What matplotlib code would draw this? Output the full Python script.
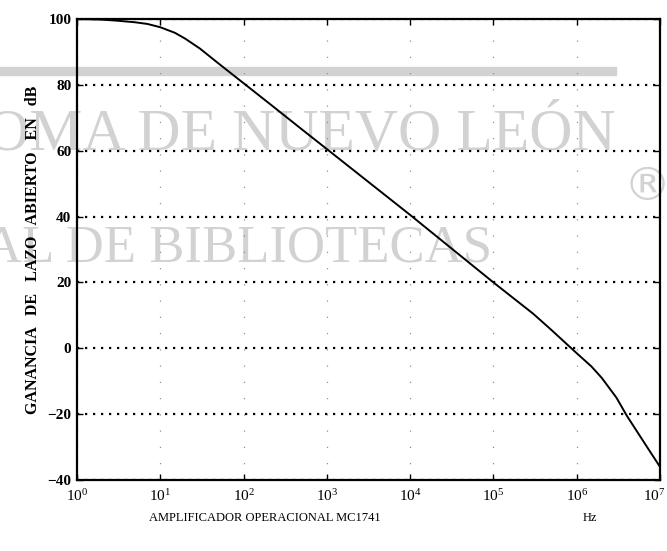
import matplotlib.pyplot as plt
from matplotlib.transforms import ScaledTranslation

# Open-loop gain
freq_hz = [1, 2, 3, 5, 7, 10, 15, 20, 30, 50, 100, 200, 500,
           1e3, 1e4, 1e5, 3e5, 5e5, 1e6, 1.5e6, 2e6, 3e6, 4e6, 7e6, 1e7]
gain_db = [100, 99.8, 99.5, 99, 98.5, 97.5, 95.8, 94, 91, 86.5, 80.5, 74.5, 66.5,
           60.5, 40.5, 20, 10.5, 5.5, -1.5, -5.5, -9, -15, -20.5, -30, -36]

y_ticks = [-40, -20, 0, 20, 40, 60, 80, 100]
x_ticks = [1, 10, 100, 1e3, 1e4, 1e5, 1e6, 1e7]

W, H = 667, 551
plt.rcParams['font.family'] = ['Liberation Serif', 'DejaVu Serif']
plt.rcParams['mathtext.fontset'] = 'dejavuserif'

fig = plt.figure(figsize=(W / 100, H / 100), dpi=100)

def px(x, y):
    return x / W, 1 - y / H

# watermark (gray, behind the plot)
wm = '#d2d2d2'
fig.text(*px(616, 150), 'OMA DE NUEVO LEÓN', ha='right',
         va='baseline', fontsize=43, color=wm, zorder=0)
fig.text(*px(492, 262), 'AL DE BIBLIOTECAS', ha='right',
         va='baseline', fontsize=38, color=wm, zorder=0)
fig.text(*px(647, 187), '®', ha='center', va='center', fontsize=34,
         color=wm, family='DejaVu Sans', zorder=0)
fig.patches.append(plt.Rectangle(px(0, 75), 616 / W, 8 / H,
                                 transform=fig.transFigure, color=wm, zorder=0))

ax = fig.add_axes([77 / W, 1 - 480 / H, (660 - 77) / W, (480 - 19) / H])
ax.set_facecolor('none')
ax.set_zorder(1)

ax.plot(freq_hz, gain_db, color='black', lw=1.4)

ax.set_xscale('log')
ax.set_xlim(1, 1e7)
ax.set_ylim(-40, 100)
ax.set_xticks(x_ticks)
ax.set_yticks(y_ticks)
ax.minorticks_off()

# dotted horizontal grid, sparse vertical grid
ax.yaxis.grid(True, color='black', linestyle=(0, (1, 2.6)), lw=1.6)
ax.xaxis.grid(True, color='#909090', linestyle=(0, (1, 12)), lw=0.9)

for s in ax.spines.values():
    s.set_linewidth(1.6)

ax.tick_params(direction='in', length=4, width=1, top=True, right=True)
ax.tick_params(axis='x', labelsize=11, pad=6)
ax.tick_params(axis='y', labelsize=11, pad=4)
for lab in ax.get_yticklabels():
    lab.set_fontweight('bold')

# last x label sits right at the figure edge; nudge it inside
last = ax.get_xticklabels()[-1]
last.set_transform(last.get_transform() + ScaledTranslation(-6 / 100, 0, fig.dpi_scale_trans))

fig.text(*px(33, 250), 'GANANCIA   DE   LAZO   ABIERTO   EN   dB', rotation=90,
         ha='center', va='center', fontsize=11.5, fontweight='bold')
fig.text(*px(265, 518), 'AMPLIFICADOR OPERACIONAL MC1741', ha='center',
         va='center', fontsize=9)
fig.text(*px(590, 518), 'Hz', ha='center', va='center', fontsize=9)

fig.savefig('out.png', dpi=100)
